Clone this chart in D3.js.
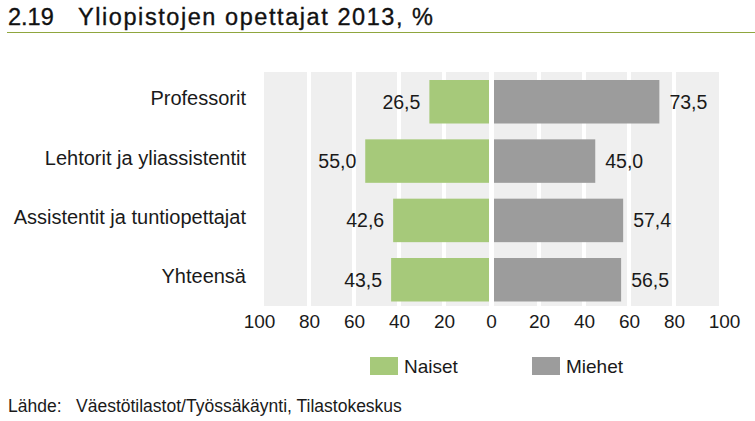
<!DOCTYPE html>
<html><head><meta charset="utf-8">
<script src="https://cdn.jsdelivr.net/npm/d3@7"></script>
<style>
body{margin:0;background:#fff;}
text{font-family:"Liberation Sans",Arial,Helvetica,sans-serif;fill:#1a1a1a;}
</style></head>
<body>
<svg id="c" width="755" height="421"></svg>
<script>
const categories = ["Professorit","Lehtorit ja yliassistentit","Assistentit ja tuntiopettajat","Yhteensä"];
const naiset = [26.5, 55.0, 42.6, 43.5];
const miehet = [73.5, 45.0, 57.4, 56.5];
const tickValues = [0,20,40,60,80,100];
const seriesNames = ["Naiset","Miehet"];
const colors = ["#a6c97a","#9c9c9c"];
const fmt = v => v.toFixed(1).replace(".", ",");

const svg = d3.select("#c");

// Title
const t = svg.append("text").attr("y",25).style("font-size","23.5px").style("fill","#111")
  .style("stroke","#111").style("stroke-width","0.35px");
t.append("tspan").attr("x",8).text("2.19");
t.append("tspan").attr("x",78).attr("textLength",355).attr("lengthAdjust","spacing").text("Yliopistojen opettajat 2013, %");
svg.append("line").attr("x1",7).attr("x2",755).attr("y1",32.5).attr("y2",32.5)
  .attr("stroke","#8fa63e").attr("stroke-width",1.2);

const xL = d3.scaleLinear().domain([0,100]).range([489,264]);
const xR = d3.scaleLinear().domain([0,100]).range([494,719]);
const y = d3.scaleBand().domain(categories).range([72,309.5]).paddingInner(0.267).paddingOuter(0.135);
const bgTop = 72, bgBot = 306;

// backgrounds
[xL, xR].forEach(sc => {
  const [a,b] = sc.range();
  svg.append("rect").attr("x",Math.min(a,b)).attr("width",Math.abs(b-a))
    .attr("y",bgTop).attr("height",bgBot-bgTop).attr("fill","#efefef");
  svg.selectAll(null).data(tickValues.filter(v=>v>0 && v<100)).enter().append("rect")
    .attr("x",d=>sc(d)-2).attr("width",4).attr("y",bgTop).attr("height",bgBot-bgTop).attr("fill","#fff");
});

// bars
svg.selectAll(".bn").data(categories).enter().append("rect")
  .attr("x",(d,i)=>xL(naiset[i])).attr("width",(d,i)=>xL(0)-xL(naiset[i]))
  .attr("y",d=>y(d)).attr("height",y.bandwidth()).attr("fill",colors[0]);
svg.selectAll(".bm").data(categories).enter().append("rect")
  .attr("x",xR(0)).attr("width",(d,i)=>xR(miehet[i])-xR(0))
  .attr("y",d=>y(d)).attr("height",y.bandwidth()).attr("fill",colors[1]);

// value labels
svg.selectAll(".ln").data(categories).enter().append("text")
  .attr("x",(d,i)=>xL(naiset[i])-9).attr("y",d=>y(d)+y.bandwidth()/2).attr("dy","0.36em")
  .attr("text-anchor","end").style("font-size","19.5px").text((d,i)=>fmt(naiset[i]));
svg.selectAll(".lm").data(categories).enter().append("text")
  .attr("x",(d,i)=>xR(miehet[i])+10).attr("y",d=>y(d)+y.bandwidth()/2).attr("dy","0.36em")
  .attr("text-anchor","start").style("font-size","19.5px").text((d,i)=>fmt(miehet[i]));

// category labels
svg.selectAll(".cat").data(categories).enter().append("text")
  .attr("x",246).attr("y",d=>y(d)+y.bandwidth()/2-3.5).attr("dy","0.36em")
  .attr("text-anchor","end").style("font-size","20px").text(d=>d);

// axes
function axis(sc, dir){
  const g = svg.append("g").attr("transform","translate(0,309)")
    .call(d3.axisBottom(sc).tickValues(tickValues.filter(v=>v>0)).tickSize(0).tickPadding(6).tickFormat(d3.format("d")));
  g.select(".domain").remove();
  g.selectAll("text").style("font-size","19px").attr("fill","#1a1a1a")
    .attr("dx",d=> d===100 ? dir*5 : 0);
}
axis(xL,-1); axis(xR,1);
svg.append("text").attr("x",(xL(0)+xR(0))/2).attr("y",309+6).attr("dy","0.71em")
  .attr("text-anchor","middle").style("font-size","19px").text(d3.format("d")(tickValues[0]));

// legend
const lx = [370, 532];
seriesNames.forEach((n,i)=>{
  svg.append("rect").attr("x",lx[i]).attr("y",357).attr("width",28).attr("height",18).attr("fill",colors[i]);
  svg.append("text").attr("x",lx[i]+34).attr("y",373).style("font-size","19px").text(n);
});

// source
const s = svg.append("text").attr("y",412).style("font-size","17.5px");
s.append("tspan").attr("x",8).text("Lähde:");
s.append("tspan").attr("x",76).text("Väestötilastot/Työssäkäynti, Tilastokeskus");
</script>
</body></html>
